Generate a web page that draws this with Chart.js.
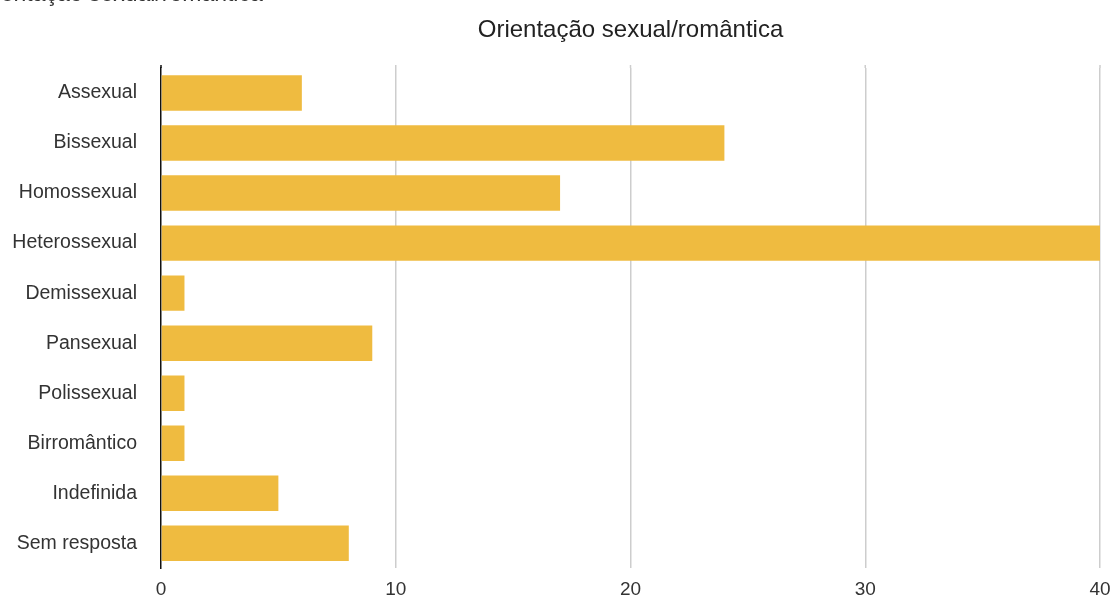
<!DOCTYPE html>
<html lang="pt">
<head>
<meta charset="utf-8">
<title>Orientação sexual/romântica</title>
<script src="https://cdn.jsdelivr.net/npm/chart.js@4/dist/chart.umd.min.js"></script>
<style>
  html, body { margin: 0; padding: 0; background: #fff; overflow: hidden; }
  #wrap { position: relative; width: 1117px; height: 604px; overflow: hidden; }
  #chart { position: absolute; left: 0; top: 0; }
  #prev-heading {
    position: absolute; left: -30px; top: -18.5px;
    font: 23px "Liberation Sans", Arial, sans-serif; line-height: 23px;
    color: #333; white-space: nowrap;
  }
</style>
</head>
<body>
<div id="wrap">
  <canvas id="chart" width="1117" height="604"></canvas>
  <div id="prev-heading">Orientação sexual/romântica</div>
</div>
<script>
const chartTitle = 'Orientação sexual/romântica';
const categories = ['Assexual', 'Bissexual', 'Homossexual', 'Heterossexual', 'Demissexual',
                    'Pansexual', 'Polissexual', 'Birromântico', 'Indefinida', 'Sem resposta'];
const counts = [6, 24, 17, 40, 1, 9, 1, 1, 5, 8];
const xTicks = [0, 10, 20, 30, 40];

const FONT = '"Liberation Sans", Arial, Helvetica, sans-serif';

// Title centred over the plotting area, plus grid/axis lines running a few px above it
const decorations = {
  id: 'decorations',
  afterDraw(chart) {
    const { ctx, chartArea, scales } = chart;
    ctx.save();
    // short extension of the vertical lines above the first bar band
    ctx.lineWidth = 1.5;
    xTicks.forEach(v => {
      const x = scales.x.getPixelForValue(v);
      ctx.strokeStyle = v === 0 ? '#111' : '#cdcdcd';
      ctx.beginPath();
      ctx.moveTo(x, chartArea.top - 3);
      ctx.lineTo(x, chartArea.top);
      ctx.stroke();
    });
    ctx.font = '24px ' + FONT;
    ctx.fillStyle = '#222';
    ctx.textAlign = 'center';
    ctx.textBaseline = 'middle';
    ctx.fillText(chartTitle, (chartArea.left + chartArea.right) / 2, 30);
    ctx.restore();
  }
};

new Chart(document.getElementById('chart'), {
  type: 'bar',
  data: {
    labels: categories,
    datasets: [{
      data: counts,
      backgroundColor: '#EFBB40',
      borderWidth: 0,
      categoryPercentage: 0.8,
      barPercentage: 0.885
    }]
  },
  options: {
    indexAxis: 'y',
    responsive: false,
    animation: false,
    devicePixelRatio: 1,
    layout: { padding: { top: 68, right: 17, bottom: 0, left: 0 } },
    plugins: {
      legend: { display: false },
      title: { display: false },
      tooltip: { enabled: false }
    },
    scales: {
      x: {
        min: 0,
        max: 40,
        afterBuildTicks(scale) { scale.ticks = xTicks.map(v => ({ value: v })); },
        afterFit(scale) {
          scale.height = 32;
          scale.paddingLeft = 0;
          scale.paddingRight = 0;
        },
        border: { display: false },
        grid: {
          drawTicks: false,
          lineWidth: 1.5,
          color: ctx => (ctx.tick && ctx.tick.value === 0) ? 'rgba(0,0,0,0)' : '#cdcdcd'
        },
        ticks: {
          padding: 10,
          color: '#333',
          font: { family: FONT, size: 19 }
        }
      },
      y: {
        afterFit(scale) { scale.width = 161; },
        border: { display: true, color: '#111', width: 1.5 },
        grid: { display: false, drawTicks: false },
        ticks: {
          padding: 24,
          color: '#333',
          font: { family: FONT, size: 19.5 }
        }
      }
    }
  },
  plugins: [decorations]
});
</script>
</body>
</html>
